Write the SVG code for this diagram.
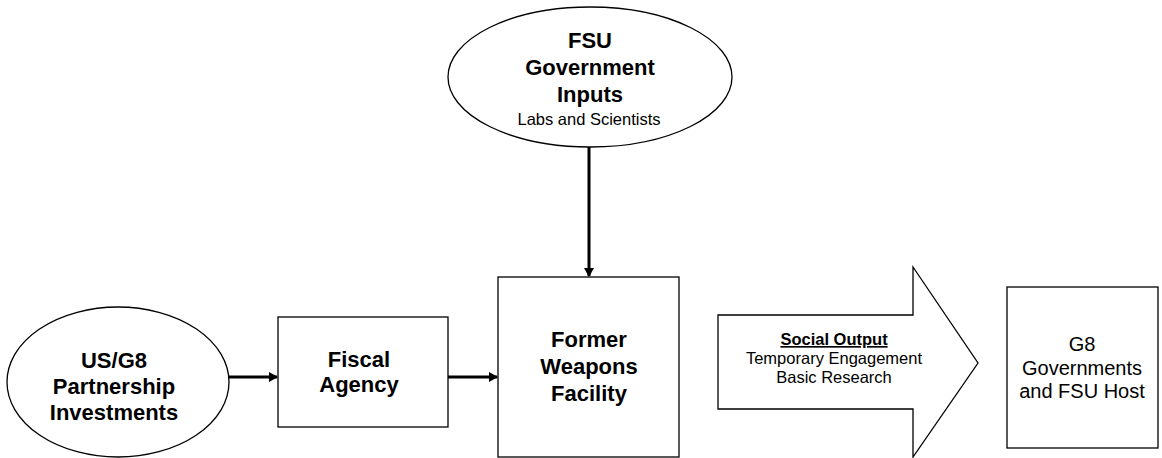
<svg xmlns="http://www.w3.org/2000/svg" width="1162" height="458" viewBox="0 0 1162 458">
<style>
.s{fill:#fff;stroke:#000;stroke-width:1.3}
.b{font-family:"Liberation Sans",Arial,sans-serif;font-weight:bold;font-size:22px;fill:#000;text-anchor:middle}
.r{font-family:"Liberation Sans",Arial,sans-serif;font-size:16.5px;fill:#000;text-anchor:middle}
.r2{font-family:"Liberation Sans",Arial,sans-serif;font-size:20px;fill:#000;text-anchor:middle}
.c{stroke:#000;stroke-width:3;fill:none}
</style>
<defs>
<marker id="ah" markerWidth="10" markerHeight="10" refX="8" refY="5" orient="auto" markerUnits="userSpaceOnUse">
<path d="M0,0 L9,5 L0,10 Z" fill="#000"/>
</marker>
</defs>
<g id="fsu">
<ellipse class="s" cx="590" cy="77" rx="142" ry="70"/>
<text class="b" x="590" y="48">FSU</text>
<text class="b" x="590" y="75">Government</text>
<text class="b" x="590" y="102">Inputs</text>
<text class="r" x="589" y="125">Labs and Scientists</text>
</g>
<g id="usg8">
<ellipse class="s" cx="118" cy="382" rx="111" ry="75"/>
<text class="b" x="114" y="368" font-size="24">US/G8</text>
<text class="b" x="114" y="394" font-size="24">Partnership</text>
<text class="b" x="114" y="420" font-size="24">Investments</text>
</g>
<g id="fiscal">
<rect class="s" x="278" y="317" width="170" height="110"/>
<text class="b" x="359" y="367">Fiscal</text>
<text class="b" x="359" y="392">Agency</text>
</g>
<g id="facility">
<rect class="s" x="498" y="277" width="181" height="180"/>
<text class="b" x="589" y="347">Former</text>
<text class="b" x="589" y="374">Weapons</text>
<text class="b" x="589" y="401">Facility</text>
</g>
<g id="output">
<path class="s" d="M718,315 L913,315 L913,267 L978,363 L913,457 L913,409 L718,409 Z"/>
<text class="r" x="834" y="345" font-weight="bold" text-decoration="underline">Social Output</text>
<text class="r" x="834" y="364">Temporary Engagement</text>
<text class="r" x="834" y="383">Basic Research</text>
</g>
<g id="g8">
<rect class="s" x="1007" y="287" width="151" height="161"/>
<text class="r2" x="1082" y="351">G8</text>
<text class="r2" x="1082" y="375">Governments</text>
<text class="r2" x="1082" y="398">and FSU Host</text>
</g>
<g id="connectors">
<line class="c" x1="589" y1="147" x2="589" y2="276" marker-end="url(#ah)"/>
<line class="c" x1="229" y1="377" x2="277" y2="377" marker-end="url(#ah)"/>
<line class="c" x1="448" y1="377" x2="497" y2="377" marker-end="url(#ah)"/>
</g>
</svg>
